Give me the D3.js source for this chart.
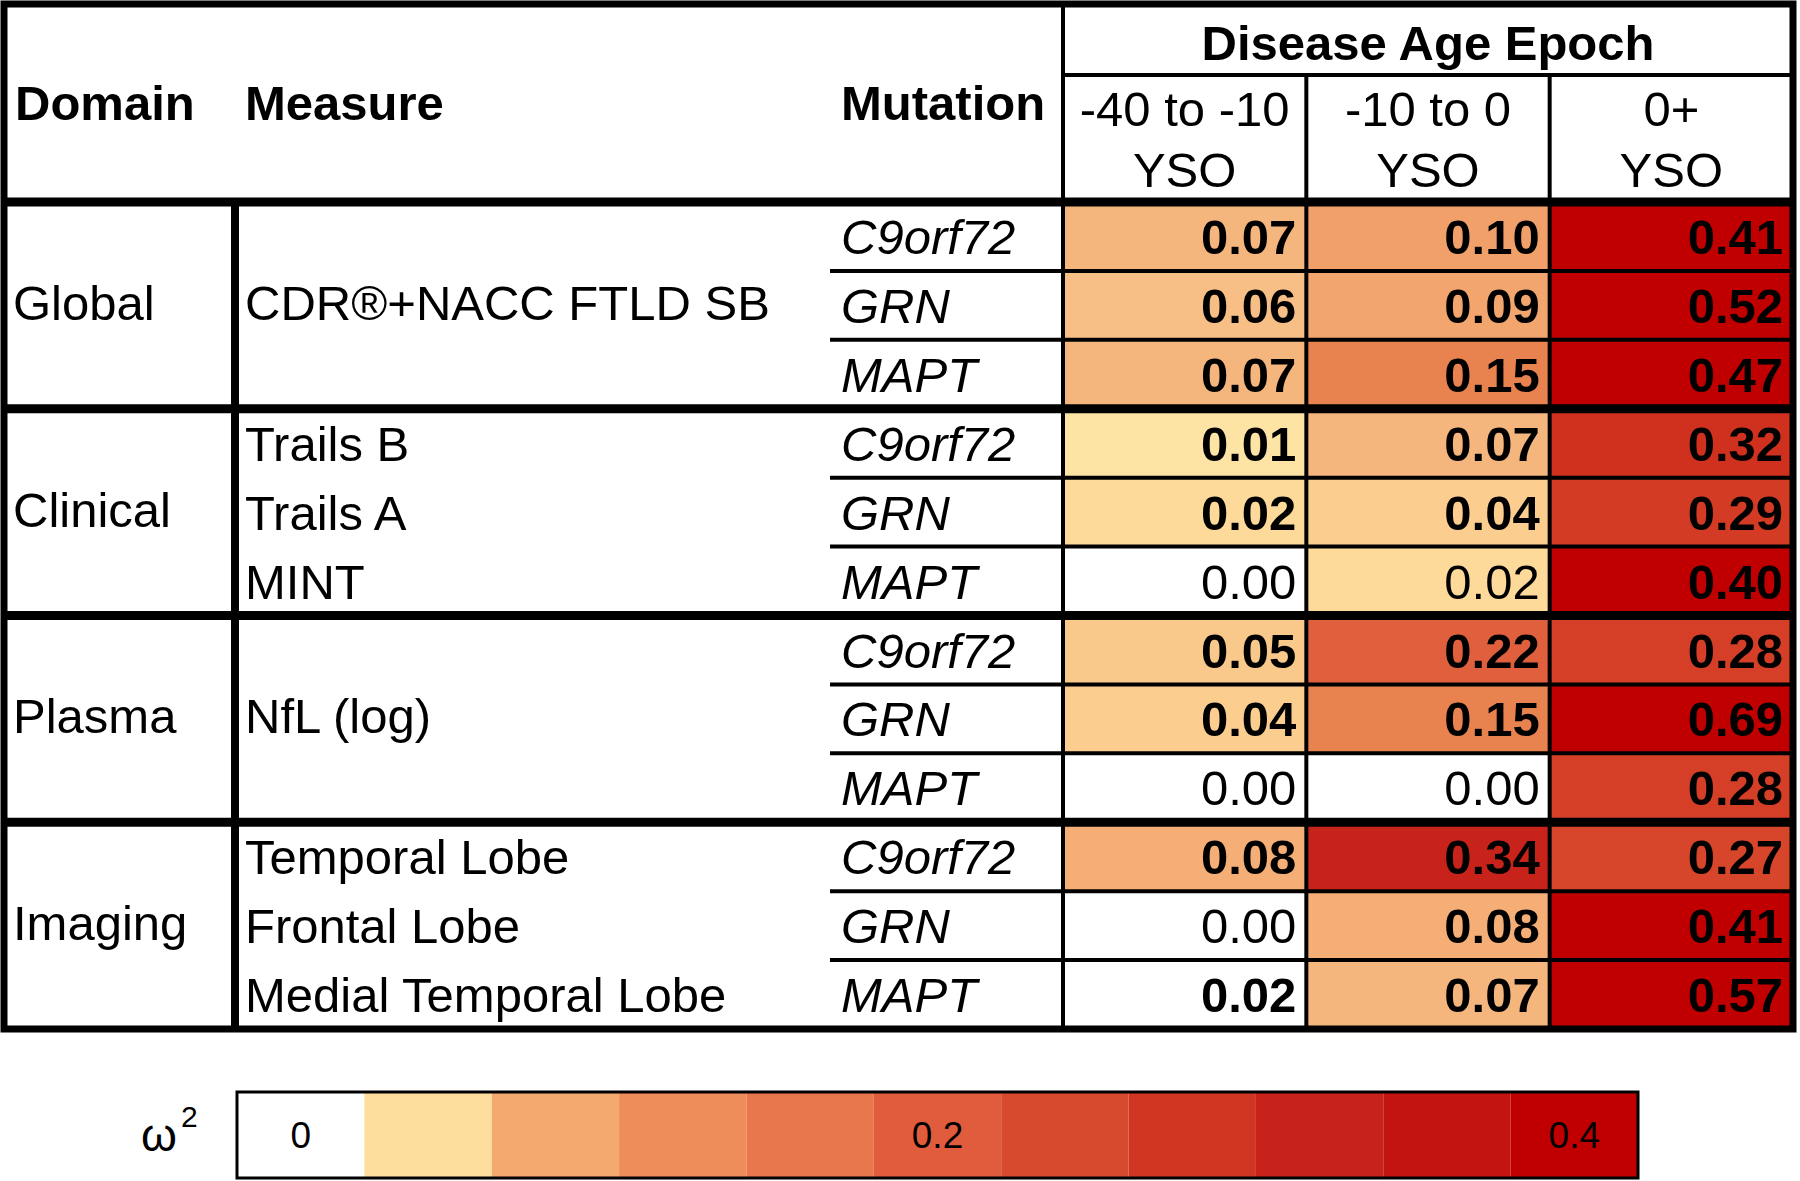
<!DOCTYPE html>
<html>
<head>
<meta charset="utf-8">
<script src="https://cdn.jsdelivr.net/npm/d3@7"></script>
<style>
  html, body { margin: 0; padding: 0; background: #fff; }
  svg { display: block; font-family: "Liberation Sans", Arial, sans-serif; }
</style>
</head>
<body>
<svg id="chart" width="1800" height="1181"></svg>
<script>
// ---------------- data ----------------
const domains = ["Global", "Clinical", "Plasma", "Imaging"];
const measures = [
  ["CDR®+NACC FTLD SB"],
  ["Trails B", "Trails A", "MINT"],
  ["NfL (log)"],
  ["Temporal Lobe", "Frontal Lobe", "Medial Temporal Lobe"]
];
const mutations = ["C9orf72", "GRN", "MAPT"];
const epochTitle = "Disease Age Epoch";
const epochs = [["-40 to -10", "YSO"], ["-10 to 0", "YSO"], ["0+", "YSO"]];
const headers = ["Domain", "Measure", "Mutation"];

// omega-squared values: one row per (domain, mutation), columns = epochs
const values = [
  [0.07, 0.10, 0.41],
  [0.06, 0.09, 0.52],
  [0.07, 0.15, 0.47],
  [0.01, 0.07, 0.32],
  [0.02, 0.04, 0.29],
  [0.00, 0.02, 0.40],
  [0.05, 0.22, 0.28],
  [0.04, 0.15, 0.69],
  [0.00, 0.00, 0.28],
  [0.08, 0.34, 0.27],
  [0.00, 0.08, 0.41],
  [0.02, 0.07, 0.57]
];
// significant (bold) flags
const significant = [
  [true, true, true],
  [true, true, true],
  [true, true, true],
  [true, true, true],
  [true, true, true],
  [false, false, true],
  [true, true, true],
  [true, true, true],
  [false, false, true],
  [true, true, true],
  [false, true, true],
  [true, true, true]
];
// cells left unshaded in the original figure [row, col]
const unshadedCells = [[11, 0]];

// colour scale for cells
const shadeStops  = [0, 0.01, 0.02, 0.04, 0.05, 0.07, 0.09, 0.10, 0.15, 0.22, 0.28, 0.32, 0.34, 0.40];
const shadeColors = ["#ffffff", "#fde4a5", "#fdd99a", "#fbcd8f", "#f9c88b", "#f5b67e", "#f3a56e",
                     "#f2a06a", "#e8834f", "#e0603e", "#d53f27", "#d0301e", "#c8231a", "#c00000"];

// legend
const legendBins = [0, 0.04, 0.08, 0.12, 0.16, 0.20, 0.24, 0.28, 0.32, 0.36, 0.40];
const legendColors = ["#ffffff", "#fdde9c", "#f4aa6f", "#ee8d5a", "#e8774d", "#e05c3c",
                      "#d84a2e", "#d03621", "#c8231a", "#c31410", "#c00000"];
const legendTicks = [0, 0.2, 0.4];
const legendTitle = "ω";

// ---------------- layout ----------------
const svg = d3.select("#chart");
const FS = 49;
const capHalf = FS * 0.716 / 2;

const L = 4, T = 4, R = 1793, B = 1029;   // outer box
const headY = 202;     // header bottom line
const epochLineY = 75; // line under "Disease Age Epoch"
const domainLineX = 235;
const mutLineStart = 830;
const dataX0 = 1063;

const nRows = values.length;
const y = d3.scaleLinear().domain([0, nRows]).range([headY, B]);
const x = d3.scaleBand().domain(d3.range(epochs.length)).range([dataX0, R]);
const color = d3.scaleLinear().domain(shadeStops).range(shadeColors).clamp(true);

const isUnshaded = (r, c) => unshadedCells.some(d => d[0] === r && d[1] === c);

const cells = [];
values.forEach((row, r) => row.forEach((v, c) => cells.push({ r, c, v, sig: significant[r][c] })));

// cells
svg.append("g").selectAll("rect").data(cells).join("rect")
  .attr("x", d => x(d.c))
  .attr("y", d => y(d.r))
  .attr("width", x.bandwidth())
  .attr("height", y(1) - y(0))
  .attr("fill", d => isUnshaded(d.r, d.c) ? "#ffffff" : color(d.v));

// cell values
svg.append("g").selectAll("text").data(cells).join("text")
  .attr("x", d => x(d.c) + x.bandwidth() - 10)
  .attr("y", d => y(d.r + 0.5) + capHalf)
  .attr("text-anchor", "end")
  .attr("font-size", FS)
  .attr("font-weight", d => d.sig ? "bold" : "normal")
  .text(d => d.v.toFixed(2));

// ---------------- header texts ----------------
const hdrBase = (T + headY) / 2 + capHalf - 1;
svg.append("text").attr("x", 15).attr("y", hdrBase).attr("font-size", FS).attr("font-weight", "bold").text(headers[0]);
svg.append("text").attr("x", 245).attr("y", hdrBase).attr("font-size", FS).attr("font-weight", "bold").text(headers[1]);
svg.append("text").attr("x", 841).attr("y", hdrBase).attr("font-size", FS).attr("font-weight", "bold").text(headers[2]);

svg.append("text").attr("x", (dataX0 + R) / 2).attr("y", 60).attr("text-anchor", "middle")
  .attr("font-size", FS).attr("font-weight", "bold").text(epochTitle);

epochs.forEach((lines, c) => {
  svg.append("text").attr("x", x(c) + x.bandwidth() / 2).attr("y", 126)
    .attr("text-anchor", "middle").attr("font-size", FS).text(lines[0]);
  svg.append("text").attr("x", x(c) + x.bandwidth() / 2).attr("y", 187)
    .attr("text-anchor", "middle").attr("font-size", FS).text(lines[1]);
});

// ---------------- row labels ----------------
const perGroup = mutations.length;
domains.forEach((dom, g) => {
  const r0 = g * perGroup;
  svg.append("text").attr("x", 13).attr("y", y(r0 + perGroup / 2) + capHalf - 3)
    .attr("font-size", FS).text(dom);
  const ms = measures[g];
  ms.forEach((m, i) => {
    const single = ms.length === 1;
    const rc = single ? r0 + perGroup / 2 : r0 + i + 0.5;
    svg.append("text").attr("x", 245).attr("y", y(rc) + capHalf - (single ? 3 : 0)).attr("font-size", FS).text(m);
  });
  mutations.forEach((mu, i) => {
    svg.append("text").attr("x", 841).attr("y", y(r0 + i + 0.5) + capHalf)
      .attr("font-size", FS).attr("font-style", "italic").text(mu);
  });
});

// ---------------- grid lines ----------------
const lines = svg.append("g").attr("stroke", "#000");
// row separators inside groups
for (let r = 1; r < nRows; r++) {
  if (r % perGroup === 0) continue;
  lines.append("line").attr("x1", mutLineStart).attr("x2", R).attr("y1", y(r)).attr("y2", y(r)).attr("stroke-width", 4);
}
// column separators
for (let c = 1; c < epochs.length; c++) {
  lines.append("line").attr("x1", x(c)).attr("x2", x(c)).attr("y1", epochLineY).attr("y2", B).attr("stroke-width", 4);
}
lines.append("line").attr("x1", dataX0).attr("x2", dataX0).attr("y1", T).attr("y2", B).attr("stroke-width", 4);
lines.append("line").attr("x1", dataX0).attr("x2", R).attr("y1", epochLineY).attr("y2", epochLineY).attr("stroke-width", 4);
// group separators
for (let g = 1; g < domains.length; g++) {
  const yy = y(g * perGroup);
  lines.append("line").attr("x1", L).attr("x2", R).attr("y1", yy).attr("y2", yy).attr("stroke-width", 9);
}
lines.append("line").attr("x1", L).attr("x2", R).attr("y1", headY).attr("y2", headY).attr("stroke-width", 9);
lines.append("line").attr("x1", domainLineX).attr("x2", domainLineX).attr("y1", headY).attr("y2", B).attr("stroke-width", 8);
// outer box
svg.append("rect").attr("x", L).attr("y", T).attr("width", R - L).attr("height", B - T)
  .attr("fill", "none").attr("stroke", "#000").attr("stroke-width", 7);

// ---------------- legend ----------------
const lx = d3.scaleLinear().domain([-0.02, 0.42]).range([237, 1638]);
const ly0 = 1092, ly1 = 1178;
const lg = svg.append("g");
lg.selectAll("rect").data(legendBins).join("rect")
  .attr("x", d => lx(d - 0.02))
  .attr("y", ly0)
  .attr("width", d => lx(d + 0.02) - lx(d - 0.02))
  .attr("height", ly1 - ly0)
  .attr("fill", (d, i) => legendColors[i]);
lg.append("rect").attr("x", lx(-0.02)).attr("y", ly0).attr("width", lx(0.42) - lx(-0.02)).attr("height", ly1 - ly0)
  .attr("fill", "none").attr("stroke", "#000").attr("stroke-width", 3);
lg.selectAll("text.tick").data(legendTicks).join("text")
  .attr("class", "tick")
  .attr("x", d => lx(d))
  .attr("y", (ly0 + ly1) / 2 + 13)
  .attr("text-anchor", "middle")
  .attr("font-size", 37)
  .text(d => d === 0 ? "0" : String(d));
const om = lg.append("text").attr("x", 141).attr("y", 1151).attr("font-size", 46);
om.append("tspan").text(legendTitle);
om.append("tspan").attr("font-size", 30).attr("dy", -24).attr("dx", 4).text("2");
</script>
</body>
</html>
